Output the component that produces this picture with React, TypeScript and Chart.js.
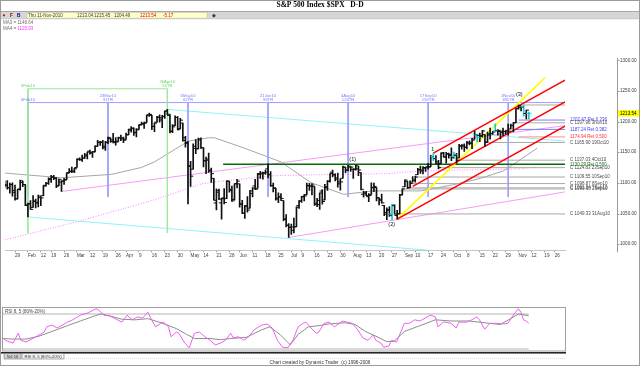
import React, { useEffect, useRef } from 'react';
import { Chart, registerables } from 'chart.js';

Chart.register(...registerables);

const FONT = "'Liberation Sans', Arial, sans-serif";

// ---------------- S&P 500 daily bars (Jan 25 - Nov 11, 2010) ----------------
const dates = [
  '01-25','01-26','01-27','01-28','01-29',
  '02-01','02-02','02-03','02-04','02-05','02-08','02-09','02-10','02-11','02-12','02-16','02-17','02-18','02-19','02-22','02-23','02-24','02-25','02-26',
  '03-01','03-02','03-03','03-04','03-05','03-08','03-09','03-10','03-11','03-12','03-15','03-16','03-17','03-18','03-19','03-22','03-23','03-24','03-25','03-26','03-29','03-30','03-31',
  '04-01','04-05','04-06','04-07','04-08','04-09','04-12','04-13','04-14','04-15','04-16','04-19','04-20','04-21','04-22','04-23','04-26','04-27','04-28','04-29','04-30',
  '05-03','05-04','05-05','05-06','05-07','05-10','05-11','05-12','05-13','05-14','05-17','05-18','05-19','05-20','05-21','05-24','05-25','05-26','05-27','05-28',
  '06-01','06-02','06-03','06-04','06-07','06-08','06-09','06-10','06-11','06-14','06-15','06-16','06-17','06-18','06-21','06-22','06-23','06-24','06-25','06-28','06-29','06-30',
  '07-01','07-02','07-06','07-07','07-08','07-09','07-12','07-13','07-14','07-15','07-16','07-19','07-20','07-21','07-22','07-23','07-26','07-27','07-28','07-29','07-30',
  '08-02','08-03','08-04','08-05','08-06','08-09','08-10','08-11','08-12','08-13','08-16','08-17','08-18','08-19','08-20','08-23','08-24','08-25','08-26','08-27','08-30','08-31',
  '09-01','09-02','09-03','09-07','09-08','09-09','09-10','09-13','09-14','09-15','09-16','09-17','09-20','09-21','09-22','09-23','09-24','09-27','09-28','09-29','09-30',
  '10-01','10-04','10-05','10-06','10-07','10-08','10-11','10-12','10-13','10-14','10-15','10-18','10-19','10-20','10-21','10-22','10-25','10-26','10-27','10-28','10-29',
  '11-01','11-02','11-03','11-04','11-05','11-08','11-09','11-10','11-11',
];

const opens = [
  1092.4,1095.8,1091.94,1096.93,1087.61,
  1073.89,1090.05,1100.67,1097.25,1064.12,1065.51,1060.06,1069.68,1067.10,1075.95,1079.13,1096.14,1099.03,1105.49,1110.00,1107.49,1095.89,1101.24,1103.10,
  1105.36,1117.01,1119.36,1119.12,1125.12,1138.40,1137.56,1140.22,1143.96,1151.71,1148.53,1150.83,1159.94,1166.13,1166.68,1157.25,1166.47,1172.70,1170.03,1167.58,1167.71,1173.75,1171.75,
  1171.23,1178.71,1186.01,1188.23,1181.75,1187.47,1194.94,1195.94,1198.69,1210.77,1210.17,1192.06,1199.04,1207.16,1202.52,1207.87,1217.07,1209.92,1184.59,1193.30,1206.77,
  1188.58,1197.50,1169.24,1164.38,1127.04,1122.27,1156.39,1155.43,1170.04,1157.19,1136.52,1138.78,1119.57,1107.34,1067.26,1084.78,1067.42,1075.51,1074.27,1102.59,
  1087.30,1073.01,1098.82,1098.43,1065.84,1050.81,1062.75,1058.77,1082.65,1095.00,1091.21,1114.02,1115.98,1116.16,1122.79,1113.90,1095.57,1090.93,1075.10,1077.50,1071.10,1040.56,
  1031.10,1027.65,1028.09,1028.54,1062.92,1070.50,1077.23,1080.65,1095.61,1094.46,1093.85,1066.85,1064.53,1086.67,1072.14,1092.17,1102.89,1117.36,1112.84,1108.07,1098.44,
  1107.53,1125.34,1121.06,1125.78,1122.07,1122.80,1122.92,1116.89,1081.48,1082.22,1077.49,1081.16,1092.08,1092.44,1075.63,1073.36,1063.20,1048.98,1056.28,1049.27,1062.90,1046.88,
  1049.72,1080.66,1093.61,1102.60,1092.36,1101.15,1104.57,1113.38,1121.16,1119.43,1123.89,1126.39,1126.57,1142.82,1139.49,1131.10,1131.69,1148.64,1142.31,1146.75,1145.97,
  1143.49,1144.96,1140.68,1159.81,1161.57,1158.36,1165.32,1164.28,1171.32,1177.82,1177.47,1176.83,1178.64,1166.74,1179.82,1180.52,1184.74,1184.88,1183.84,1184.47,1183.87,
  1185.71,1187.86,1193.79,1198.34,1221.20,1223.24,1223.59,1213.14,1213.04,
];

const highs = [
  1102.97,1103.69,1099.51,1100.22,1096.45,
  1089.38,1104.73,1102.72,1097.25,1067.13,1071.20,1079.28,1073.67,1080.04,1077.81,1095.67,1101.03,1108.24,1112.42,1112.29,1108.58,1106.42,1103.50,1107.24,
  1116.11,1123.46,1125.64,1123.73,1139.38,1141.05,1145.37,1148.26,1150.24,1153.41,1150.98,1160.28,1169.20,1167.77,1169.20,1167.82,1174.72,1173.04,1180.69,1173.93,1174.85,1177.83,1174.56,
  1181.43,1187.73,1191.80,1189.60,1188.55,1194.66,1199.20,1199.04,1210.65,1213.92,1210.17,1197.87,1208.58,1210.99,1210.27,1217.28,1219.80,1211.38,1195.05,1209.36,1207.99,
  1205.13,1197.50,1175.95,1167.58,1135.13,1163.85,1170.48,1172.87,1173.57,1157.19,1141.88,1148.66,1124.27,1107.34,1090.16,1089.95,1074.75,1090.75,1103.52,1102.59,
  1094.77,1098.56,1105.67,1098.43,1071.36,1063.15,1077.74,1087.85,1092.25,1105.91,1115.59,1118.74,1117.72,1121.01,1131.23,1118.50,1099.64,1090.93,1083.56,1082.60,1071.10,1048.08,
  1033.58,1032.95,1042.50,1060.89,1071.25,1078.16,1080.78,1099.46,1099.08,1098.66,1093.85,1074.70,1083.94,1088.96,1097.50,1103.73,1115.01,1120.95,1114.66,1115.90,1106.44,
  1127.30,1125.44,1128.75,1126.56,1123.06,1129.24,1127.16,1116.89,1086.72,1086.25,1082.62,1100.14,1099.77,1092.44,1075.63,1081.58,1063.20,1059.38,1061.45,1065.21,1064.40,1055.14,
  1081.30,1090.10,1105.10,1102.60,1103.26,1110.27,1110.88,1123.87,1127.36,1126.46,1125.44,1131.47,1144.86,1148.59,1144.38,1136.77,1148.90,1149.92,1150.00,1148.63,1157.16,
  1150.30,1148.16,1162.76,1162.33,1163.87,1167.73,1168.68,1172.58,1184.38,1178.89,1181.20,1185.53,1178.64,1182.94,1189.43,1183.93,1196.14,1187.11,1183.84,1189.53,1185.46,
  1195.81,1195.88,1198.30,1221.25,1227.08,1224.57,1226.84,1218.75,1215.45,
];

const lows = [
  1092.4,1089.86,1083.11,1078.46,1071.59,
  1073.89,1087.96,1093.97,1062.78,1044.50,1056.51,1060.06,1059.34,1060.59,1062.97,1079.13,1094.72,1097.48,1100.80,1105.38,1092.18,1095.50,1086.02,1097.56,
  1105.36,1116.51,1116.58,1116.66,1125.12,1136.77,1134.90,1140.09,1138.99,1146.97,1141.45,1150.35,1159.94,1161.16,1155.33,1152.88,1163.83,1166.01,1165.09,1161.48,1167.71,1168.92,1165.77,
  1170.69,1178.71,1182.77,1177.25,1175.12,1187.15,1194.71,1188.82,1198.69,1208.50,1186.77,1183.68,1199.04,1198.85,1190.19,1205.10,1211.07,1181.62,1181.81,1193.30,1186.32,
  1188.58,1168.12,1158.15,1065.79,1094.15,1122.27,1147.71,1155.43,1156.14,1126.14,1114.96,1117.20,1100.66,1071.58,1055.90,1072.70,1040.78,1065.59,1074.27,1084.78,
  1069.89,1072.03,1091.81,1060.50,1049.86,1042.17,1052.25,1058.77,1077.12,1089.03,1091.21,1107.13,1105.87,1113.93,1108.24,1094.18,1085.31,1071.60,1067.89,1071.45,1038.38,1028.33,
  1010.91,1015.93,1018.35,1028.54,1058.24,1068.10,1070.45,1080.65,1087.68,1080.53,1063.32,1061.11,1056.88,1065.25,1072.14,1087.88,1101.30,1109.78,1103.11,1092.82,1088.01,
  1107.53,1116.76,1119.46,1118.81,1107.17,1120.91,1111.58,1088.55,1076.69,1079.00,1069.49,1081.16,1085.76,1070.66,1063.91,1067.08,1046.68,1039.83,1045.40,1039.70,1048.79,1040.88,
  1049.72,1080.39,1093.61,1091.15,1092.36,1101.15,1101.15,1113.38,1115.58,1114.63,1118.88,1122.43,1126.57,1136.22,1131.58,1122.79,1131.69,1142.00,1132.09,1140.26,1136.08,
  1139.42,1131.87,1140.68,1154.85,1151.41,1155.58,1162.02,1155.71,1171.32,1166.71,1167.12,1174.55,1159.71,1166.74,1171.17,1178.99,1184.74,1177.72,1171.70,1177.10,1179.70,
  1177.65,1187.86,1183.56,1198.34,1220.29,1217.55,1208.94,1204.33,1204.49,
];

const closes = [
  1096.78,1092.17,1097.50,1084.53,1073.87,
  1089.19,1103.32,1097.28,1063.11,1066.19,1056.74,1070.52,1068.13,1078.47,1075.51,1094.87,1099.51,1106.75,1109.17,1108.01,1094.60,1105.24,1102.94,1104.49,
  1115.71,1118.31,1118.79,1122.97,1138.70,1138.50,1140.45,1145.61,1150.24,1149.99,1150.51,1159.46,1166.21,1165.83,1159.90,1165.81,1174.17,1167.72,1165.73,1166.59,1173.22,1173.27,1169.43,
  1178.10,1187.44,1189.44,1182.45,1186.44,1194.37,1196.48,1197.30,1210.65,1211.67,1192.13,1197.52,1207.17,1205.94,1208.67,1217.28,1212.05,1183.71,1191.36,1206.78,1186.69,
  1202.26,1173.60,1165.87,1128.15,1110.88,1159.73,1155.79,1171.67,1157.44,1135.68,1136.94,1120.80,1115.05,1071.59,1087.69,1073.65,1074.03,1067.95,1103.06,1089.41,
  1070.71,1098.38,1102.83,1064.88,1050.47,1062.00,1055.69,1086.84,1091.60,1089.63,1115.23,1114.61,1116.04,1117.51,1113.20,1095.31,1092.04,1073.69,1076.76,1074.57,1041.24,1030.71,
  1027.37,1022.58,1028.06,1060.27,1070.25,1077.96,1078.75,1095.34,1095.17,1096.48,1064.88,1071.25,1083.48,1069.59,1093.67,1102.66,1115.01,1113.84,1106.13,1101.53,1101.60,
  1125.86,1120.46,1127.24,1125.81,1121.64,1127.79,1121.06,1089.47,1083.61,1079.25,1079.38,1092.54,1094.16,1075.63,1071.69,1067.36,1051.87,1055.33,1047.22,1064.59,1048.92,1049.33,
  1080.29,1090.10,1104.51,1091.84,1098.87,1104.18,1109.55,1121.90,1121.10,1125.07,1124.66,1125.59,1142.71,1139.78,1134.28,1124.83,1148.67,1142.16,1147.70,1144.73,1141.20,
  1146.24,1137.03,1160.75,1159.97,1158.06,1165.15,1165.32,1169.77,1178.10,1173.81,1176.19,1184.71,1165.90,1178.17,1180.26,1183.08,1185.62,1185.64,1182.45,1183.78,1183.26,
  1184.38,1193.57,1197.96,1221.06,1225.85,1223.25,1213.40,1218.71,1213.54,
];

// highlighted (cyan) bars
const cyanBarDates = ['08-27', '09-21', '10-01', '10-14', '10-25', '11-09', '11-11'];

// ---------------- axes ----------------
const X_MIN = 0.123;
const X_MAX = 217;
const Y_MIN = 990.1;
const Y_MAX = 1304.1;
const priceTicks = [1000, 1050, 1100, 1150, 1200, 1250, 1300];
// bar positions of the weekly (Friday) date labels
const dateTickPos = [4, 9, 14, 18, 23, 28, 33, 38, 43, 47, 52, 57, 62, 67, 72, 77, 82, 87, 91, 96, 101, 106, 111, 115, 120, 125, 130, 135, 140, 145, 150, 155, 159, 164, 169, 174, 179, 184, 189, 194, 199, 204, 209, 213];
const dateTickLabels = ['29', 'Feb', '12', '19', '26', 'Mar', '12', '19', '26', 'Apr', '9', '16', '23', '30', 'May', '14', '21', '28', 'Jun', '11', '18', '25', 'Jul', '9', '16', '23', '30', 'Aug', '13', '20', '27', 'Sep', '10', '17', '24', 'Oct', '8', '15', '22', '29', 'Nov', '12', '19', '26'];

// ---------------- moving averages ----------------
const ma3X = [0.1, 2.8, 22.1, 41.4, 53.0, 58.0, 71.1, 78.9, 81.2, 92.8, 107.0, 118.6, 131.3, 142.9, 161.1, 173.8, 184.2, 193.1, 198.5, 206.2];
const ma3V = [1116.2, 1115.0, 1108.3, 1113.9, 1125.2, 1134.2, 1168.0, 1173.6, 1173.6, 1156.7, 1134.2, 1100.4, 1081.3, 1086.9, 1086.9, 1097.0, 1107.2, 1119.5, 1134.2, 1156.7];
const ma4X = [0.1, 28.7, 58.0, 76.2, 83.9, 104.3, 127.5, 148.3, 161.1, 199.7, 206.2];
const ma4V = [1007.0, 1037.4, 1072.3, 1098.3, 1102.7, 1111.7, 1113.9, 1115.0, 1119.5, 1122.9, 1125.9];

// ---------------- trend lines [bar, price] ----------------
const cyanTop = [[63, 1219.8], [217.8, 1167.9]];
const cyanBottom = [[9, 1044.5], [170, 988]];
const pinkUpper = [[22, 1086.0], [217.8, 1193.8]];
const pinkLower = [[110, 1010.91], [217.8, 1085.8]];
const redTop = [[166, 1148.6], [217, 1267.7]];
const redMid = [[158, 1094.2], [217, 1232.0]];
const redBottom = [[152, 1040.88], [217, 1192.7]];
const yellowLine = [[152, 1040.88], [209.3, 1271.6]];

// ---------------- time cycle lines ----------------
const blueCycleDates = ['02-05', '03-23', '05-06', '06-21', '08-04', '09-17', '11-01'];
const blueCycleLabels = ['5Feb10', '23Mar10', '6May10', '21Jun10', '4Aug10', '17Sep10', '1Nov10'];
const blueCycleSub = ['', '31TR', '62TR', '93TR', '124TR', '155TR', '186TR'];
const blueTop = 1231.0;
const blueBottom = 1076.8;
const greenCycleDates = ['02-05', '04-26'];
const greenCycleLabels = ['5Feb10', '26Apr10'];
const greenCycleSub = ['', '54TR'];
const greenTop = 1253.5;
const greenBottom = 1018.2;

// ---------------- horizontal levels ----------------
const levelPrice = [1227.08, 1202.47, 1197.96, 1187.24, 1174.94, 1165.90, 1137.03, 1130.29, 1124.83, 1109.55, 1098.87, 1091.84, 1090.10, 1049.33];
const levelStart = [199, 199, 197, 198, 199, 186, 175, 84.6, 168, 159, 157, 156, 154, 152];
const levelText = ['', '1202.47 Ret 0.236', 'C 1197.96 3Nov10', '1187.24 Ret 0.382', '1174.94 Ret 0.500', 'C 1165.90 19Oct10', 'C 1137.03 4Oct10', '1130.29 Ret 0.500', 'C 1124.83 23Sep10', 'C 1109.55 10Sep10', 'C 1098.87 8Sep10', 'C 1091.84 7Sep10', 'C 1090.10 2Sep10', 'C 1049.33 31Aug10'];
const levelKind = ['close', 'retBlue', 'close', 'retBlue', 'retRed', 'close', 'close', 'retGreen', 'close', 'close', 'close', 'close', 'close', 'close'];

// ---------------- wave labels ----------------
const waveText = ['(1)', '(2)', '(3)', '1'];
const waveX = [134.8, 149.9, 199.3, 165.7];
const waveV = [1138.7, 1032.9, 1244.5, 1154.4];

// ---------------- RSI panel ----------------
const rsiX = [0,1,4,6,7,9,12,16,17,19,21,23,25,27,30,33,36,37,39,41,43,46,48,50,52,54,56,58,59,61,62,64,65,67,68,70,72,74,76,78,80,82,84,86,88,89,91,93,95,97,100,102,104,106,108,110,112,114,116,117,119,121,122,124,126,128,130,131,133,135,137,139,141,143,144,146,147,149,150,152,154,155,157,159,161,163,165,167,168,170,171,173,175,176,179,181,183,184,186,188,190,193,195,197,199,200,201,202,203];
const rsiV = [39,35,30,47,35,32,39,49,58,61,56,61,66,70,78,82,89,87,78,77,73,66,78,70,75,73,83,66,58,64,66,58,41,49,47,32,22,47,49,41,35,27,30,35,47,39,41,35,41,53,61,63,56,35,23,22,35,58,64,66,56,47,49,64,66,58,64,68,66,64,53,39,35,44,35,30,23,25,35,32,53,64,64,70,68,73,78,75,58,66,66,64,56,66,66,70,75,70,54,64,64,63,64,78,89,83,70,68,64];
const sigX = [0,4,9,14,19,25,30,35,38,42,46,51,56,59,63,67,71,74,80,84,88,94,100,103,107,111,114,118,122,126,132,136,140,144,148,151,155,161,167,173,180,188,192,196,199,203];
const sigV = [38,37,37,42,50,60,68,76,80,76,71,70,72,68,62,55,45,38,38,36,38,40,53,58,45,27,45,58,60,63,65,62,50,42,33,33,50,60,70,68,68,64,62,72,80,77];
const rsiBands = [80, 20];
const RSI_MIN = 16.57;
const RSI_MAX = 92;

// ---------------- helpers ----------------
const idx = (d: string) => dates.indexOf(d);
const pts = (p: number[][]) => p.map(([x, y]) => ({ x, y }));
const zipPts = (xs: number[], ys: number[]) => xs.map((x, i) => ({ x, y: ys[i] }));

const levelStyle: Record<string, { line: string; text: string; width: number }> = {
  close: { line: '#a9a9a9', text: '#4a4a4a', width: 1 },
  retBlue: { line: '#7d7dff', text: '#3b3bff', width: 1 },
  retRed: { line: '#ff8a8a', text: '#ff3030', width: 1 },
  retGreen: { line: '#0b6b0b', text: '#0b6b0b', width: 1.6 },
};

function lineDs(data: any[], color: string, width: number, order: number, dash: number[] = []) {
  return {
    type: 'line',
    data,
    borderColor: color,
    borderWidth: width,
    borderDash: dash,
    pointRadius: 0,
    fill: false,
    tension: 0,
    order,
  };
}

function txt(ctx: CanvasRenderingContext2D, s: string, x: number, y: number, color: string, size = 4.6, align: CanvasTextAlign = 'left', weight = '') {
  ctx.font = `${weight} ${size}px ${FONT}`;
  ctx.fillStyle = color;
  ctx.textAlign = align;
  ctx.textBaseline = 'middle';
  ctx.fillText(s, x, y);
}

const mainDecor = {
  id: 'mainDecor',
  beforeDraw(chart: any) {
    const ctx: CanvasRenderingContext2D = chart.ctx;
    ctx.save();
    ctx.fillStyle = '#ffffff';
    ctx.fillRect(0, 0, chart.width, chart.height);
    // title
    ctx.font = "bold 7.5px 'Liberation Serif', serif";
    ctx.fillStyle = '#000';
    ctx.textAlign = 'center';
    ctx.textBaseline = 'middle';
    ctx.fillText('S&P 500 Index $SPX   D-D', 320, 5.5);
    // toolbar strip
    ctx.fillStyle = '#d6d6d6';
    ctx.fillRect(1, 11, 638, 8);
    ctx.fillStyle = '#9c9c9c';
    ctx.fillRect(1, 11, 638, 0.8);
    ctx.fillStyle = '#bdbdbd';
    ctx.fillRect(1, 18.6, 638, 0.6);
    ctx.fillStyle = '#ffffcc';
    ctx.fillRect(27, 12.5, 180, 5.6);
    ctx.strokeStyle = '#c9c99a';
    ctx.lineWidth = 0.6;
    ctx.strokeRect(27, 12.5, 180, 5.6);
    ctx.fillStyle = '#e00000';
    ctx.beginPath();
    ctx.arc(4, 15.3, 1.1, 0, Math.PI * 2);
    ctx.fill();
    txt(ctx, 'F', 10, 15.3, '#8a0000', 4.8, 'left', 'bold');
    txt(ctx, 'B', 17, 15.3, '#000088', 4.8, 'left', 'bold');
    txt(ctx, 'Thu 11-Nov-2010', 28, 15.3, '#3a3a3a', 4.5);
    txt(ctx, '1213.04', 77, 15.3, '#3a3a3a', 4.5);
    txt(ctx, '1215.45', 94, 15.3, '#3a3a3a', 4.5);
    txt(ctx, '1204.49', 114, 15.3, '#3a3a3a', 4.5);
    txt(ctx, '1213.54', 140, 15.3, '#e00000', 4.5);
    txt(ctx, '-5.17', 163, 15.3, '#e00000', 4.5);
    txt(ctx, '\u25C6', 212, 15.3, '#333', 4.5);
    // MA legend
    txt(ctx, 'MA3 = 1148.64', 3, 23, '#6e6e6e', 4.5);
    txt(ctx, 'MA4 = ', 3, 29, '#6e6e6e', 4.5);
    ctx.font = `4.5px ${FONT}`;
    const w = ctx.measureText('MA4 = ').width;
    txt(ctx, '1125.93', 3 + w, 29, '#ff33ff', 4.5);
    ctx.restore();
  },
  afterDatasetsDraw(chart: any) {
    const ctx: CanvasRenderingContext2D = chart.ctx;
    const xs = chart.scales.x;
    const ys = chart.scales.y;
    const area = chart.chartArea;
    ctx.save();
    // cycle labels
    const bTop = ys.getPixelForValue(blueTop);
    blueCycleDates.forEach((d, i) => {
      const x = xs.getPixelForValue(idx(d));
      if (blueCycleSub[i]) {
        txt(ctx, blueCycleLabels[i], x, bTop - 6.6, '#7a7aff', 4.2, 'center');
        txt(ctx, blueCycleSub[i], x, bTop - 2.6, '#7a7aff', 4.2, 'center');
      } else {
        txt(ctx, blueCycleLabels[i], x, bTop - 2.6, '#7a7aff', 4.2, 'center');
      }
    });
    const gTop = ys.getPixelForValue(greenTop);
    greenCycleDates.forEach((d, i) => {
      const x = xs.getPixelForValue(idx(d));
      if (greenCycleSub[i]) {
        txt(ctx, greenCycleLabels[i], x, gTop - 6.6, '#66d466', 4.2, 'center');
        txt(ctx, greenCycleSub[i], x, gTop - 2.6, '#66d466', 4.2, 'center');
      } else {
        txt(ctx, greenCycleLabels[i], x, gTop - 2.6, '#66d466', 4.2, 'center');
      }
    });
    // level labels
    levelPrice.forEach((p, i) => {
      if (!levelText[i]) return;
      const y = ys.getPixelForValue(p);
      txt(ctx, levelText[i], area.right + 5, y, levelStyle[levelKind[i]].text, 4.5);
    });
    // wave labels
    waveText.forEach((t, i) => {
      const x = xs.getPixelForValue(waveX[i]);
      const y = ys.getPixelForValue(waveV[i]);
      const small = t.length === 1;
      txt(ctx, t, x, y, small ? '#1d6b1d' : '#111', small ? 5 : 5.6, 'center', small ? 'bold' : '');
    });
    // right axis line and tick marks
    ctx.strokeStyle = '#9a9a9a';
    ctx.lineWidth = 1;
    ctx.beginPath();
    ctx.moveTo(617.5, area.top);
    ctx.lineTo(617.5, area.bottom + 2);
    ctx.stroke();
    priceTicks.forEach((p) => {
      const y = Math.round(ys.getPixelForValue(p)) + 0.5;
      ctx.beginPath();
      ctx.moveTo(617, y);
      ctx.lineTo(619.5, y);
      ctx.stroke();
    });
    // last price tag
    const ly = ys.getPixelForValue(closes[closes.length - 1]);
    ctx.fillStyle = '#ffff00';
    ctx.fillRect(618, ly - 3.2, 21, 6.4);
    txt(ctx, closes[closes.length - 1].toFixed(2), 620, ly, '#000', 4.6);
    ctx.restore();
  },
};

const rsiDecor = {
  id: 'rsiDecor',
  beforeDraw(chart: any) {
    const ctx: CanvasRenderingContext2D = chart.ctx;
    ctx.save();
    ctx.fillStyle = '#ffffff';
    ctx.fillRect(0, 0, chart.width, chart.height);
    ctx.restore();
  },
  afterDraw(chart: any) {
    const ctx: CanvasRenderingContext2D = chart.ctx;
    const area = chart.chartArea;
    ctx.save();
    ctx.strokeStyle = '#a0a0a0';
    ctx.lineWidth = 1;
    ctx.strokeRect(area.left - 0.5, 0.5, area.right - area.left + 1, area.bottom - 0.5);
    txt(ctx, 'RSI 8, 5 (80%-20%)', 5, 4.6, '#444', 4.5);
    // tab strip
    ctx.fillStyle = '#262626';
    ctx.fillRect(0, 45, 566, 1.6);
    ctx.fillStyle = '#d0d0d0';
    ctx.fillRect(4, 46.6, 17, 5.4);
    ctx.strokeStyle = '#777';
    ctx.lineWidth = 0.6;
    ctx.strokeRect(4, 46.6, 17, 5.4);
    txt(ctx, 'Vol 16', 12.5, 49.4, '#333', 4.2, 'center');
    ctx.fillStyle = '#f4f4f4';
    ctx.fillRect(22, 46.6, 42, 5.4);
    ctx.strokeRect(22, 46.6, 42, 5.4);
    txt(ctx, 'RSI 8, 5 (80%-20%)', 43, 49.4, '#333', 4.2, 'center');
    ctx.strokeStyle = '#c8c8c8';
    ctx.setLineDash([1, 1]);
    ctx.beginPath();
    ctx.moveTo(64, 51.5);
    ctx.lineTo(566, 51.5);
    ctx.stroke();
    ctx.setLineDash([]);
    txt(ctx, 'Chart created by Dynamic Trader  (c) 1996-2006', 320, 55.3, '#333', 4.7, 'center');
    ctx.restore();
  },
};

function mainConfig(): any {
  const barColors = dates.map((d) => (cyanBarDates.includes(d) ? '#19c8d2' : '#101010'));
  const datasets: any[] = [];
  datasets.push(lineDs(zipPts(ma4X, ma4V), '#ff80ff', 1, 20, [1, 1.6]));
  datasets.push(lineDs(zipPts(ma3X, ma3V), '#a6a6a0', 1, 20));
  datasets.push(lineDs(pts(cyanTop), '#8ef4f4', 1, 19));
  datasets.push(lineDs(pts(cyanBottom), '#8ef4f4', 1, 19));
  datasets.push(lineDs(pts(pinkUpper), '#f79af7', 1, 19));
  datasets.push(lineDs(pts(pinkLower), '#f79af7', 1, 19));
  // time cycles
  datasets.push(lineDs(pts([[idx(blueCycleDates[0]), blueTop], [X_MAX + 1, blueTop]]), '#9d9dff', 1, 18));
  blueCycleDates.forEach((d) => {
    datasets.push(lineDs(pts([[idx(d), blueTop], [idx(d), blueBottom]]), '#9d9dff', 1, 18));
  });
  datasets.push(lineDs(pts([[idx(greenCycleDates[0]), greenTop], [idx(greenCycleDates[1]), greenTop]]), '#9be89b', 1, 17));
  greenCycleDates.forEach((d) => {
    datasets.push(lineDs(pts([[idx(d), greenTop], [idx(d), greenBottom]]), '#9be89b', 1, 17));
  });
  // levels
  levelPrice.forEach((p, i) => {
    const st = levelStyle[levelKind[i]];
    datasets.push(lineDs(pts([[levelStart[i], p], [X_MAX + 1, p]]), st.line, st.width, 16));
  });
  // channel
  datasets.push(lineDs(pts(yellowLine), '#ffff00', 1.6, 6));
  datasets.push(lineDs(pts(redTop), '#ff0000', 1.5, 5));
  datasets.push(lineDs(pts(redMid), '#ff0000', 1.5, 5));
  datasets.push(lineDs(pts(redBottom), '#ff0000', 1.5, 5));
  // OHLC bars
  datasets.push({
    type: 'bar',
    data: dates.map((_, i) => ({ x: i, y: [lows[i], highs[i]] })),
    backgroundColor: barColors,
    borderWidth: 0,
    barThickness: 1,
    grouped: false,
    order: 2,
  });
  datasets.push({
    type: 'line',
    showLine: false,
    data: opens.map((o, i) => ({ x: i - 0.55, y: o })),
    pointStyle: 'line',
    pointRadius: 1.3,
    pointBorderWidth: 1,
    pointBorderColor: barColors,
    pointBackgroundColor: barColors,
    order: 1,
  });
  datasets.push({
    type: 'line',
    showLine: false,
    data: closes.map((c, i) => ({ x: i + 0.55, y: c })),
    pointStyle: 'line',
    pointRadius: 1.3,
    pointBorderWidth: 1,
    pointBorderColor: barColors,
    pointBackgroundColor: barColors,
    order: 1,
  });

  return {
    type: 'bar',
    data: { datasets },
    options: {
      responsive: false,
      animation: false,
      devicePixelRatio: 1,
      events: [],
      layout: { padding: { left: 3, top: 19, right: 0, bottom: 0 } },
      plugins: { legend: { display: false }, tooltip: { enabled: false } },
      scales: {
        x: {
          type: 'linear',
          position: 'bottom',
          min: X_MIN,
          max: X_MAX,
          offset: false,
          afterFit: (s: any) => { s.height = 10; },
          afterBuildTicks: (s: any) => { s.ticks = dateTickPos.map((v) => ({ value: v })); },
          ticks: {
            autoSkip: false,
            maxRotation: 0,
            minRotation: 0,
            align: 'start',
            padding: 1,
            color: '#3c3c3c',
            font: { size: 4.6, family: FONT },
            callback: (_v: any, i: number) => dateTickLabels[i],
          },
          grid: { drawOnChartArea: false, drawTicks: true, tickLength: 2, color: '#9a9a9a', offset: false },
          border: { display: true, color: '#c4c4c4' },
        },
        y: {
          type: 'linear',
          position: 'right',
          min: Y_MIN,
          max: Y_MAX,
          afterFit: (s: any) => { s.width = 75; },
          afterBuildTicks: (s: any) => { s.ticks = priceTicks.map((v) => ({ value: v })); },
          ticks: {
            padding: 55,
            color: '#3c3c3c',
            font: { size: 4.6, family: FONT },
            callback: (v: any) => Number(v).toFixed(2),
          },
          grid: { display: false, drawTicks: false },
          border: { display: false },
        },
      },
    },
    plugins: [mainDecor],
  };
}

function rsiConfig(): any {
  return {
    type: 'line',
    data: {
      datasets: [
        lineDs(pts([[0, rsiBands[0]], [dates.length - 1, rsiBands[0]]]), '#b4b4b4', 1, 4),
        lineDs(pts([[0, rsiBands[1]], [dates.length - 1, rsiBands[1]]]), '#b4b4b4', 1, 4),
        lineDs(zipPts(sigX, sigV), '#869486', 1, 2),
        lineDs(zipPts(rsiX, rsiV), '#f25ef2', 1, 1),
      ],
    },
    options: {
      responsive: false,
      animation: false,
      devicePixelRatio: 1,
      events: [],
      layout: { padding: { left: 3, right: 75, top: 0, bottom: 15 } },
      plugins: { legend: { display: false }, tooltip: { enabled: false } },
      scales: {
        x: { type: 'linear', min: X_MIN, max: X_MAX, display: false },
        y: { type: 'linear', min: RSI_MIN, max: RSI_MAX, display: false },
      },
    },
    plugins: [rsiDecor],
  };
}

export default function App() {
  const mainRef = useRef<HTMLCanvasElement>(null);
  const rsiRef = useRef<HTMLCanvasElement>(null);

  useEffect(() => {
    document.body.style.margin = '0';
    const main = new Chart(mainRef.current as HTMLCanvasElement, mainConfig());
    const rsi = new Chart(rsiRef.current as HTMLCanvasElement, rsiConfig());
    return () => {
      main.destroy();
      rsi.destroy();
    };
  }, []);

  return (
    <div style={{ position: 'relative', width: 640, height: 366, background: '#fff', overflow: 'hidden' }}>
      <canvas ref={mainRef} width={640} height={308} style={{ position: 'absolute', left: 0, top: 0, width: 640, height: 308 }} />
      <canvas ref={rsiRef} width={640} height={59} style={{ position: 'absolute', left: 0, top: 307, width: 640, height: 59 }} />
      <div style={{ position: 'absolute', left: 0, top: 0, width: 640, height: 366, border: '1px solid #9a9a9a', boxSizing: 'border-box', pointerEvents: 'none' }} />
    </div>
  );
}
